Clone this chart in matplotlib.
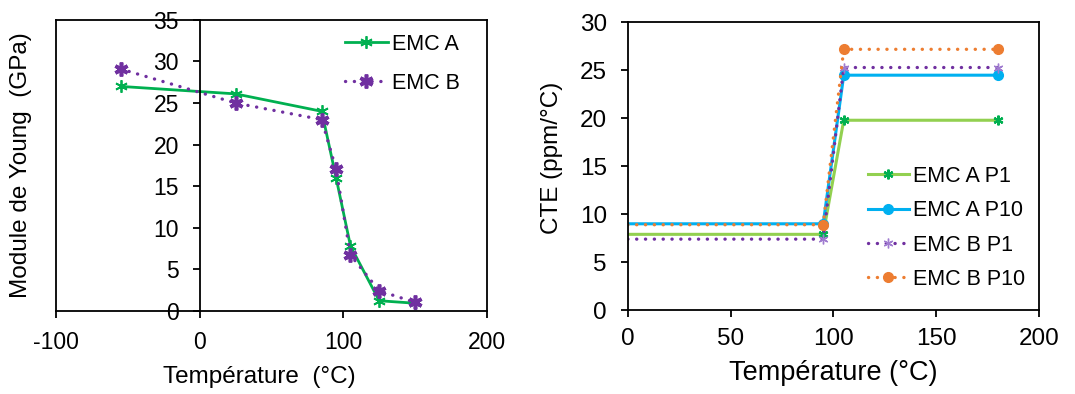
import matplotlib
matplotlib.use("Agg")
import matplotlib.pyplot as plt

plt.rcParams['font.family'] = ['Liberation Sans', 'DejaVu Sans']
plt.rcParams['axes.unicode_minus'] = False

# Young's modulus vs temperature
temp_young = [-55, 25, 85, 95, 105, 125, 150]
young_a = [27.0, 26.1, 24.0, 16.0, 7.8, 1.2, 0.9]
young_b = [29.1, 25.0, 23.0, 17.0, 6.7, 2.4, 1.0]

# CTE vs temperature
temp_cte = [0, 95, 105, 180]
cte_a_p1 = [7.9, 7.9, 19.8, 19.8]
cte_a_p10 = [9.0, 9.0, 24.5, 24.5]
cte_b_p1 = [7.4, 7.4, 25.3, 25.3]
cte_b_p10 = [8.9, 8.9, 27.2, 27.2]

green = '#00B050'
purple = '#7030A0'
lgreen = '#92D050'
blue = '#00B0F0'
orange = '#ED7D31'
star = (6, 2, 0)
dots = (0, (0.05, 2.6))

fig = plt.figure(figsize=(10.75, 3.94), dpi=100)

# ---- left chart
ax1 = fig.add_axes([0.052, 0.2114, 0.401, 0.738])
ax1.plot(temp_young, young_a, color=green, lw=2.0, marker=star, ms=9,
         mew=1.3, label='EMC A')
ax1.plot(temp_young, young_b, color=purple, lw=2.4, ls=dots, dash_capstyle='round',
         marker=star, ms=10, mew=2.6, label='EMC B')
ax1.set_xlim(-100, 200)
ax1.set_ylim(0, 35)
ax1.set_xticks([-100, 0, 100, 200])
ax1.set_yticks(range(0, 36, 5))
ax1.spines['left'].set_position(('data', 0))
ax1.axvline(-100, color='black', lw=1.3, clip_on=False)
for s in ax1.spines.values():
    s.set_linewidth(1.3)
ax1.tick_params(labelsize=16.5, length=5, width=1.3)
ax1.tick_params(axis='y', pad=10)
ax1.tick_params(axis='x', pad=9.5)
ax1.set_xlabel('Température  (°C)', fontsize=17.5)
ax1.xaxis.set_label_coords(0.471, -0.19)
ax1.set_ylabel('Module de Young  (GPa)', fontsize=17.5)
ax1.yaxis.set_label_coords(-0.056, 0.5)
ax1.legend(loc='upper left', bbox_to_anchor=(0.67, 0.953), frameon=False,
           fontsize=15.5, borderpad=0, borderaxespad=0, handlelength=2.0,
           handletextpad=0.2, labelspacing=0.85)

# ---- right chart
ax2 = fig.add_axes([0.584, 0.213, 0.3826, 0.730])
ax2.plot(temp_cte, cte_a_p1, color=lgreen, lw=2.2, marker=star, ms=7, mew=1.6,
         mec=green, mfc=green, markevery=[1, 2, 3], label='EMC A P1')
ax2.plot(temp_cte, cte_a_p10, color=blue, lw=2.2, marker='o', ms=7,
         markevery=[1, 2, 3], label='EMC A P10')
ax2.plot(temp_cte, cte_b_p1, color=purple, lw=2.4, ls=dots, dash_capstyle='round',
         marker=star, ms=7, mew=1.0, mec='#A07CD0', markevery=[1, 2, 3],
         label='EMC B P1')
ax2.plot(temp_cte, cte_b_p10, color=orange, lw=2.4, ls=dots, dash_capstyle='round',
         marker='o', ms=7, markevery=[1, 2, 3], label='EMC B P10')
ax2.set_xlim(0, 200)
ax2.set_ylim(0, 30)
ax2.set_xticks(range(0, 201, 50))
ax2.set_yticks(range(0, 31, 5))
for s in ax2.spines.values():
    s.set_linewidth(1.3)
ax2.tick_params(labelsize=17.5, length=5, width=1.3)
ax2.tick_params(axis='y', pad=10)
ax2.tick_params(axis='x', pad=8)
ax2.set_xlabel('Température (°C)', fontsize=19.5, labelpad=7)
ax2.set_ylabel('CTE (ppm/°C)', fontsize=17.5)
ax2.yaxis.set_label_coords(-0.158, 0.53)
ax2.legend(loc='upper left', bbox_to_anchor=(0.584, 0.501), frameon=False,
           fontsize=15.5, borderpad=0, borderaxespad=0, handlelength=1.9,
           handletextpad=0.2, labelspacing=0.62)

fig.savefig('out.png', dpi=100)
